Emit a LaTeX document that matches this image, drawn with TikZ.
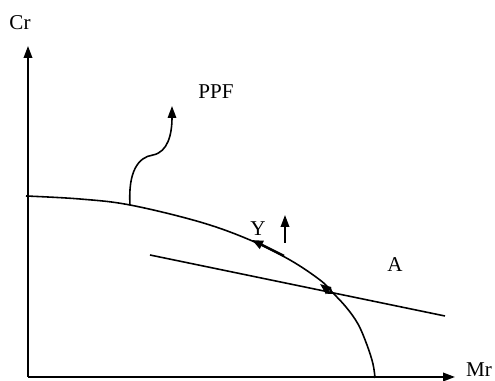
\documentclass[tikz,border=0pt]{standalone}
\usepackage{fontspec}
\setmainfont{Liberation Serif}
\usetikzlibrary{arrows.meta}

\begin{document}
\begin{tikzpicture}[x=0.02cm, y=-0.02cm, font=\fontsize{12}{14}\selectfont, line width=0.9pt]
        \useasboundingbox (0,0) rectangle (495,381);
        % axes
        \coordinate (O) at (28,377);
        \coordinate (ytop) at (28,46);
        \coordinate (xend) at (455,377);
        \node (cr) at (20,23) {Cr};
        \node (mr) at (479,370) {Mr};
        \draw[line width=1.1pt, -{Triangle[length=2.4mm, width=1.7mm]}] (O) -- (ytop);
        \draw[line width=1.1pt, -{Triangle[length=2.4mm, width=1.7mm]}] (O) -- (xend);
        % frontier
        \draw plot[smooth, tension=0.6] coordinates {(26,196) (80,199) (130,205) (200,222)
              (250,240) (290,260) (320,280) (332,292) (346,307) (358,324) (367,345) (373,364) (375,378)};
        % budget line
        \coordinate (a1) at (150,255);
        \coordinate (a2) at (445,316);
        \draw (a1) -- (a2);
        % PPF shift arrow
        \coordinate (p0) at (130,205);
        \coordinate (p1) at (153,155);
        \coordinate (p2) at (172,106);
        \node (ppf) at (216,92) {PPF};
        \draw[-{Triangle[length=2.4mm, width=1.7mm]}] (p0) .. controls (128,172) and (138,157) .. (p1)
              .. controls (168,152) and (172,134) .. (p2);
        % movement along the frontier
        \coordinate (y0) at (284,256);
        \coordinate (y1) at (252,240);
        \draw[line width=1.4pt, -{Triangle[length=2.2mm, width=1.7mm]}] (y0) -- (y1);
        \coordinate (e0) at (333,294);
        \coordinate (e1) at (320,284);
        \draw[line width=1.2pt, {Diamond[open, length=2mm, width=1.4mm]}-{Triangle[length=2.2mm, width=1.7mm]}] (e0) -- (e1);
        \node (ylab) at (258,229) {Y};
        \coordinate (u0) at (285,243);
        \coordinate (u1) at (285,215);
        \draw[line width=1.1pt, -{Triangle[length=2.4mm, width=1.7mm]}] (u0) -- (u1);
        \node (alab) at (395,265) {A};
\end{tikzpicture}
\end{document}
